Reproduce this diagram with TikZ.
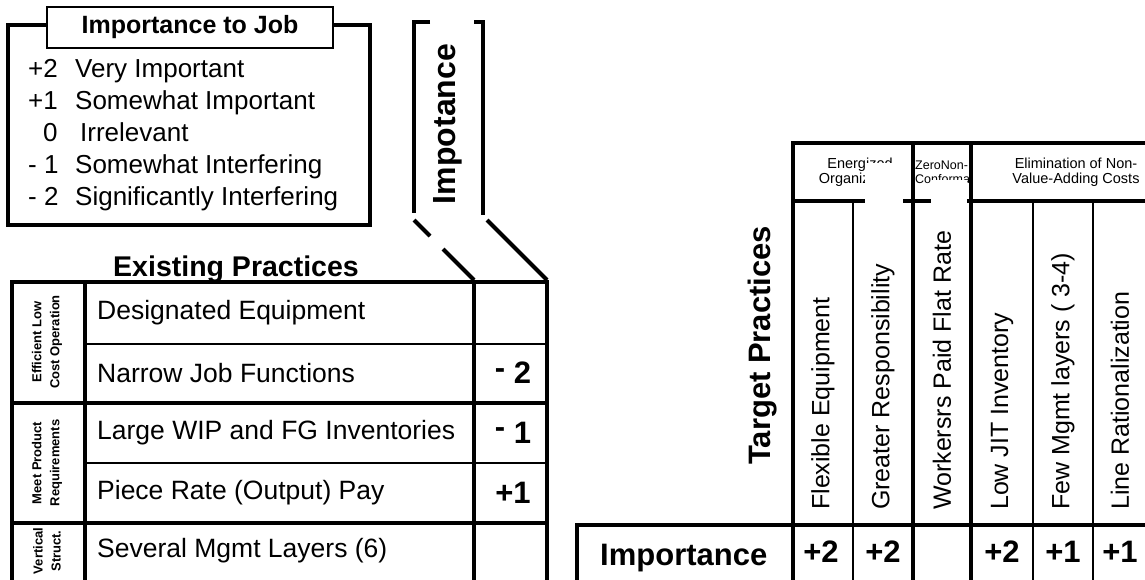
\documentclass[tikz,border=0pt]{standalone}
\usepackage{fontspec}
\setmainfont{Liberation Sans}
\usetikzlibrary{positioning}

\begin{document}
\begin{tikzpicture}[x=1pt,y=-1pt,
    thickline/.style={line width=4pt},
    thinline/.style={line width=1.8pt},
    legendtxt/.style={anchor=base west,inner sep=0pt,font=\fontsize{26}{30}\selectfont},
    rowtxt/.style={anchor=west,inner sep=0pt,font=\fontsize{26.5}{30}\selectfont},
    score/.style={inner sep=0pt,font=\bfseries\fontsize{31}{36}\selectfont},
    grouptxt/.style={rotate=90,align=center,inner sep=0pt,font=\bfseries\fontsize{13}{18}\selectfont},
    coltxt/.style={rotate=90,anchor=west,inner sep=0pt,font=\fontsize{25}{28}\selectfont},
    headtxt/.style={align=center,inner sep=0pt,font=\fontsize{14.5}{15}\selectfont},
  ]
\useasboundingbox (0,0) rectangle (1145,579);

% legend
\draw[thickline] (8,25) rectangle (370,225);
\node[draw,line width=2pt,fill=white,minimum width=286pt,minimum height=41pt,
  font=\bfseries\fontsize{25}{30}\selectfont] (title) at (190,27.5) {Importance to Job};
\foreach \num/\nx/\txt/\tx [count=\i] in {+2/28/Very Important/75,
    +1/28/Somewhat Important/75, 0/43/Irrelevant/80,
    - 1/28/Somewhat Interfering/75, - 2/28/Significantly Interfering/75}{
  \node[legendtxt] (num\i) at (\nx,{77+(\i-1)*32.2}) {\num};
  \node[legendtxt] (lab\i) at (\tx,{77+(\i-1)*32.2}) {\txt};
}

% importance bracket
\draw[thickline] (430,22) -- (414,22) -- (414,213);
\draw[thickline] (474,22) -- (483,22) -- (483,215);
\node[rotate=90,inner sep=0pt,font=\bfseries\fontsize{32}{36}\selectfont] (imp) at (448,124) {Impotance};
\draw[thickline] (414,220) -- (430,236);
\draw[thickline] (443,249) -- (474,280);
\draw[thickline] (487,220) -- (547,280);

% existing practices
\node[anchor=base,inner sep=0pt,font=\bfseries\fontsize{28.5}{32}\selectfont] (exist) at (236,276) {Existing Practices};
\draw[thickline] (10,282) -- (549,282);
\foreach \x in {12,85,474,547}
  \draw[thickline] (\x,280) -- (\x,590);
\draw[thickline] (12,403) -- (547,403) (12,523) -- (547,523);
\draw[thinline] (85,344) -- (547,344) (85,463) -- (547,463);
\node[grouptxt] (g1) at (47,342) {Efficient Low\\Cost Operation};
\node[grouptxt] (g2) at (47,463) {Meet Product\\Requirements};
\node[grouptxt] (g3) at (47,551) {Vertical\\Struct.};
\foreach \t/\y [count=\i] in {Designated Equipment/313, Narrow Job Functions/373,
    Large WIP and FG Inventories/433, Piece Rate (Output) Pay/493,
    Several Mgmt Layers (6)/551}
  \node[rowtxt] (ex\i) at (97,\y) {\t};
\node[score] (s2) at (513,373) {\raisebox{0.35ex}{-} 2};
\node[score] (s3) at (513,433) {\raisebox{0.35ex}{-} 1};
\node[score] (s4) at (513,493) {+1};

% target practices
\draw[thickline] (791,143) -- (1150,143) (793,201) -- (1150,201);
\foreach \x in {793,913,971}
  \draw[thickline] (\x,141) -- (\x,590);
\foreach \x in {853,1033,1093}
  \draw[thinline] (\x,201) -- (\x,590);
\draw[thickline] (575,525) -- (1150,525) (577,525) -- (577,590);
\node[headtxt] (h1) at (860,172) {Energized\\Organization};
\begin{scope}
  \clip (915,145) rectangle (968,199);
  \node[headtxt,anchor=west,align=left,font=\fontsize{12.5}{14}\selectfont] (h2) at (915,172) {ZeroNon-\\Conformance};
\end{scope}
\node[headtxt] (h3) at (1076,172) {Elimination of Non-\\Value-Adding Costs};
\fill[white] (865,163) rectangle (903,515);
\fill[white] (931,180) rectangle (967,515);
\foreach \x/\t [count=\i] in {823/Flexible Equipment, 883/Greater Responsibility,
    942/Workersrs Paid Flat Rate, 1002/Low JIT Inventory,
    1063/Few Mgmt layers ( 3-4), 1120/Line Rationalization}
  \node[coltxt] (tp\i) at (\x,510) {\t};
\node[rotate=90,anchor=west,inner sep=0pt,font=\bfseries\fontsize{31}{36}\selectfont] (target) at (763,465) {Target Practices};
\node[anchor=base west,inner sep=0pt,font=\bfseries\fontsize{31}{36}\selectfont] (implab) at (600,565) {Importance};
\foreach \x/\v [count=\i] in {821/+2, 883/+2, 1002/+2, 1063/+1, 1120/+1}
  \node[score] (v\i) at (\x,552) {\v};
\end{tikzpicture}
\end{document}
